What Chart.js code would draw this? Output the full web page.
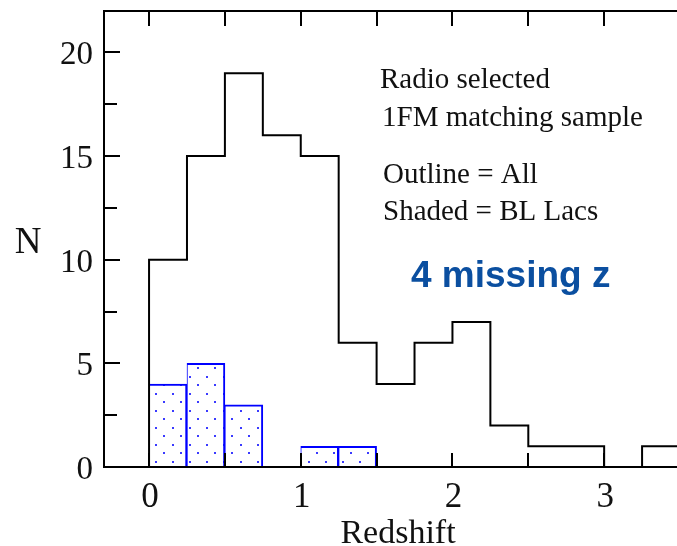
<!DOCTYPE html>
<html>
<head>
<meta charset="utf-8">
<script src="https://cdn.jsdelivr.net/npm/chart.js@4/dist/chart.umd.min.js"></script>
<style>
  html, body { margin:0; padding:0; background:#fff; overflow:hidden; }
  #wrap { width:677px; height:546px; overflow:hidden; }
</style>
</head>
<body>
<div id="wrap"><canvas id="c" width="690" height="546"></canvas></div>
<script>
// histogram bins (redshift), width 0.25
const binEdges   = [0, 0.25, 0.5, 0.75, 1, 1.25, 1.5, 1.75, 2, 2.25, 2.5, 2.75, 3, 3.25, 3.5];
const allCounts  = [10, 15, 19, 16, 15, 6, 4, 6, 7, 2, 1, 1, 0, 1];
const blLacCounts= [4, 5, 3, 0, 1, 1, 0, 0, 0, 0, 0, 0, 0, 0];

const xTickVals   = [0, 0.5, 1, 1.5, 2, 2.5, 3, 3.5];
const xLabelVals  = [0, 1, 2, 3];
const yMajorVals  = [0, 5, 10, 15, 20];
const yMinorVals  = [2.5, 7.5, 12.5, 17.5];
const notes       = ['Radio selected', '1FM matching sample', 'Outline = All', 'Shaded = BL Lacs'];
const missingNote = '4 missing z';

// outline: step envelope of all counts
const outline = [{ x: binEdges[0], y: 0 }];
allCounts.forEach((c, i) => { outline.push({ x: binEdges[i], y: c }, { x: binEdges[i + 1], y: c }); });
outline.push({ x: binEdges[binEdges.length - 1], y: 0 });

const shaded = blLacCounts
  .map((c, i) => ({ x: (binEdges[i] + binEdges[i + 1]) / 2, y: c }))
  .filter(d => d.y > 0);

// dotted fill
function dotPattern() {
  const t = document.createElement('canvas');
  t.width = 17; t.height = 17;
  const g = t.getContext('2d');
  g.fillStyle = '#fff'; g.fillRect(0, 0, 17, 17);
  g.fillStyle = '#3a3aff';
  g.fillRect(2, 2, 2, 2);
  g.fillRect(10, 10, 2, 2);
  return g.createPattern(t, 'repeat');
}

const frame = {
  id: 'frame',
  afterDraw(chart) {
    const { ctx, chartArea: a, scales: { x, y } } = chart;
    ctx.save();
    ctx.strokeStyle = '#000'; ctx.lineWidth = 2;
    ctx.strokeRect(a.left, a.top, a.right - a.left, a.bottom - a.top);

    ctx.beginPath();
    xTickVals.forEach(v => {
      const px = Math.round(x.getPixelForValue(v));
      ctx.moveTo(px, a.bottom); ctx.lineTo(px, a.bottom - 14);
      ctx.moveTo(px, a.top);    ctx.lineTo(px, a.top + 15);
    });
    yMajorVals.forEach(v => {
      const py = Math.round(y.getPixelForValue(v));
      ctx.moveTo(a.left, py); ctx.lineTo(a.left + 16, py);
    });
    yMinorVals.forEach(v => {
      const py = Math.round(y.getPixelForValue(v));
      ctx.moveTo(a.left, py); ctx.lineTo(a.left + 13, py);
    });
    ctx.stroke();

    ctx.fillStyle = '#111';
    ctx.font = '33px "Liberation Serif"';
    ctx.textAlign = 'right'; ctx.textBaseline = 'alphabetic';
    yMajorVals.forEach(v => ctx.fillText(String(v), a.left - 11, y.getPixelForValue(v) + 12));

    ctx.font = '35px "Liberation Serif"';
    ctx.textAlign = 'center';
    xLabelVals.forEach(v => ctx.fillText(String(v), x.getPixelForValue(v) + 1, a.bottom + 40));

    ctx.font = '34px "Liberation Serif"';
    ctx.fillText('Redshift', 398, 543);
    ctx.font = '37px "Liberation Serif"';
    ctx.fillText('N', 28, 253);

    ctx.textAlign = 'left';
    ctx.font = '29px "Liberation Serif"';
    ctx.fillText(notes[0], 380, 88);
    ctx.fillText(notes[1], 382, 126);
    ctx.fillText(notes[2], 383, 183);
    ctx.fillText(notes[3], 383, 220);

    ctx.fillStyle = '#0b4fa0';
    ctx.font = 'bold 37px "Liberation Sans"';
    ctx.fillText(missingNote, 411, 287);
    ctx.restore();
  }
};

new Chart(document.getElementById('c'), {
  type: 'line',
  data: {
    datasets: [
      { type: 'line', data: outline, borderColor: '#000', borderWidth: 2, pointRadius: 0,
        tension: 0, fill: false, order: 0, borderJoinStyle: 'miter' },
      { type: 'bar', data: shaded, backgroundColor: dotPattern(), borderColor: '#0000ff',
        borderWidth: { top: 2, left: 1, right: 2, bottom: 0 }, borderSkipped: 'start',
        categoryPercentage: 1, barPercentage: 1, order: 1 }
    ]
  },
  options: {
    responsive: false, animation: false,
    layout: { padding: { left: 104, top: 11, right: 10, bottom: 79 } },
    plugins: { legend: { display: false }, tooltip: { enabled: false } },
    scales: {
      x: { type: 'linear', display: false, min: -0.297, max: 3.5, offset: false,
           ticks: { stepSize: 0.25, includeBounds: false } },
      y: { type: 'linear', display: false, min: 0, max: 22 }
    }
  },
  plugins: [frame]
});
</script>
</body>
</html>
